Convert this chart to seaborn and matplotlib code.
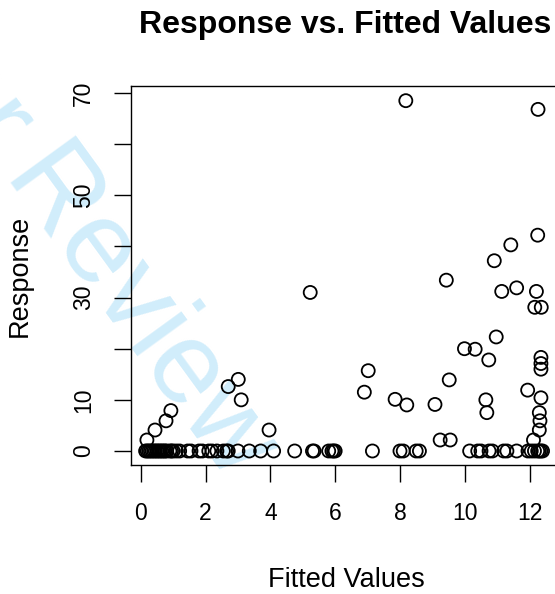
import matplotlib
matplotlib.use("Agg")
import matplotlib.pyplot as plt
import seaborn as sns
import pandas as pd
import numpy as np

# Points with non-zero response (fitted, response)
fit_pos = [8.18, 12.26, 12.25, 11.42, 10.91, 9.43, 5.23, 11.14, 11.60, 12.21,
           12.16, 12.36, 10.97, 9.99, 10.32, 10.74, 12.35, 12.35, 12.35, 7.02,
           9.52, 6.90, 11.94, 7.85, 8.21, 9.08, 10.65, 10.68, 12.35, 12.30,
           12.32, 12.30, 12.12, 9.24, 9.55,
           0.19, 0.44, 0.78, 0.93, 2.70, 3.01, 3.10, 3.96]
resp_pos = [68.5, 66.8, 42.2, 40.3, 37.2, 33.4, 31.0, 31.2, 31.9, 31.2,
            28.1, 28.1, 22.3, 20.0, 19.9, 17.8, 18.3, 17.1, 16.0, 15.7,
            13.9, 11.5, 11.9, 10.1, 9.0, 9.1, 10.0, 7.5, 10.4, 7.5,
            5.9, 4.1, 2.15, 2.15, 2.15,
            2.15, 4.1, 5.9, 7.9, 12.6, 14.0, 10.0, 4.1]

# Points with zero response (fitted values only)
fit_zero = [0.15, 0.2, 0.25, 0.3, 0.35, 0.4, 0.45, 0.5, 0.55, 0.6, 0.65, 0.7,
            0.75, 0.8, 0.9, 0.95, 1.0, 1.1, 1.2, 1.45, 1.55, 1.8, 1.9, 2.1,
            2.2, 2.35, 2.55, 2.65, 2.7, 3.0, 3.35, 3.7, 4.1, 4.75, 5.3, 5.35,
            5.8, 5.9, 5.95, 6.0, 7.15, 8.0, 8.1, 8.5, 8.6, 10.15, 10.4, 10.5,
            10.75, 10.85, 11.2, 11.3, 11.6, 11.95, 12.05, 12.15, 12.25, 12.3,
            12.35, 12.4]

x_ticks = [0, 2, 4, 6, 8, 10, 12]
y_ticks = [0, 10, 20, 30, 40, 50, 60, 70]
y_ticklabels = ["0", "10", "", "30", "", "50", "", "70"]

df = pd.DataFrame({
    "Fitted Values": fit_pos + fit_zero,
    "Response": resp_pos + [0.0] * len(fit_zero),
})

sns.set_style("white")
plt.rcParams["font.family"] = ["Liberation Sans", "DejaVu Sans"]
plt.rcParams["text.color"] = "black"

W, H = 555, 594
fig = plt.figure(figsize=(W / 100, H / 100), dpi=100)
ax = fig.add_axes([130.7 / W, 129 / H, (562 - 130.7) / W, (465 - 86) / H])
ax.set_zorder(5)
ax.patch.set_alpha(0)

# watermark "For Peer Review", drawn behind the plot
wm_color = (0.82, 0.93, 0.985)
wm_size = 84
wm_rot = -54
renderer = fig.canvas.get_renderer()
tmp = fig.text(0, 0, "Review", fontsize=wm_size)
rev_w = tmp.get_window_extent(renderer).width
tmp.remove()
cx, cy = 137, 318  # centre of "Review" in pixels from top-left
fig.text(cx / W, 1 - cy / H, "Review", fontsize=wm_size, color=wm_color,
         rotation=wm_rot, rotation_mode="anchor", ha="center", va="center",
         zorder=1)
ang = np.deg2rad(-wm_rot)
gap = rev_w / 2 + 0.24 * wm_size * 100 / 72
ex = cx - gap * np.cos(ang)
ey = cy - gap * np.sin(ang)
fig.text(ex / W, 1 - ey / H, "For Peer", fontsize=wm_size, color=wm_color,
         rotation=wm_rot, rotation_mode="anchor", ha="right", va="center",
         zorder=1)

sns.scatterplot(data=df, x="Fitted Values", y="Response", ax=ax,
                marker="o", s=88, facecolors="none", edgecolor="black",
                linewidth=1.3, legend=False)

ax.set_xlim(-0.31, 13.0)
ax.set_ylim(-2.74, 71.37)
ax.set_xticks(x_ticks)
ax.set_xticklabels([str(t) for t in x_ticks])
ax.set_yticks(y_ticks)
ax.set_yticklabels(y_ticklabels, rotation=90, va="center")

ax.tick_params(axis="both", direction="out", length=12, width=1.0,
               color="black", labelsize=16.5, labelcolor="black",
               left=True, bottom=True)
ax.tick_params(axis="x", pad=15)
ax.tick_params(axis="y", pad=13.5)
for s in ax.spines.values():
    s.set_visible(True)
    s.set_color("black")
    s.set_linewidth(1.0)

ax.set_xlabel("Fitted Values", fontsize=19.5, color="black")
ax.set_ylabel("Response", fontsize=19.5, color="black")
ax.xaxis.set_label_coords(0.5, (14 - 129) / 379)
ax.xaxis.label.set_va("center")
ax.yaxis.set_label_coords((20 - 130.7) / 431.3, 0.5)
ax.yaxis.label.set_va("center")

fig.text(345 / W, 1 - 33 / H, "Response vs. Fitted Values", fontsize=23,
         fontweight="bold", ha="center", va="baseline", color="black")

fig.savefig("out.png", dpi=100)
